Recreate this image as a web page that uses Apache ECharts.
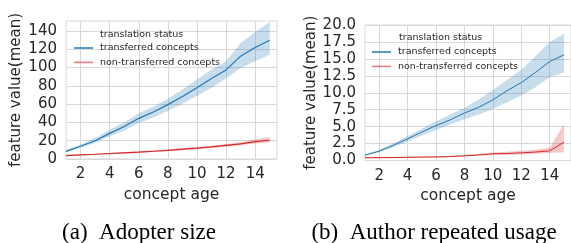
<!DOCTYPE html>
<html>
<head>
<meta charset="utf-8">
<script src="https://cdn.jsdelivr.net/npm/echarts@6/dist/echarts.min.js"></script>
<style>
  html, body { margin: 0; padding: 0; background: #fff; }
  #main { width: 571px; height: 243px; }
</style>
</head>
<body>
<div id="main"></div>
<script>
// concept age
var ages = [1, 2, 3, 4, 5, 6, 7, 8, 9, 10, 11, 12, 13, 14, 15]
var xTicks = [2, 4, 6, 8, 10, 12, 14]

// (a) Adopter size
var sizeTicks = [0, 20, 40, 60, 80, 100, 120, 140]
var sizeTrans = [8.3, 14, 20, 28, 35.5, 44.5, 51.5, 59.5, 68.5, 78, 88, 97.5, 112.5, 122, 130]
var sizeTransLow = [7, 12.5, 17.5, 25, 31, 39, 45.5, 52.5, 60.5, 69, 78, 88, 99.5, 107, 114]
var sizeTransHigh = [9.5, 16, 23, 32, 40, 50, 57.5, 66, 76, 87, 98, 107, 127, 139, 150]
var sizeNon = [3.8, 4.5, 5.2, 6, 6.8, 7.5, 8.5, 9.5, 10.7, 11.8, 13.3, 15, 16.5, 19, 20.5]
var sizeNonLow = [3.3, 4, 4.6, 5.3, 6, 6.7, 7.6, 8.5, 9.6, 10.6, 12, 13.5, 15, 17, 18]
var sizeNonHigh = [4.3, 5, 5.8, 6.7, 7.6, 8.4, 9.4, 10.5, 11.8, 13, 14.6, 16.5, 18.5, 21.5, 24]

// (b) Author repeated usage
var repTrans = [0.8, 1.38, 2.25, 3.2, 4.2, 5.15, 6, 7, 7.85, 8.95, 10.3, 11.5, 13, 14.6, 15.6]
var repTransLow = [0.65, 1.2, 1.95, 2.8, 3.7, 4.5, 5.3, 6.1, 6.8, 7.6, 8.6, 9.6, 10.8, 12.3, 13]
var repTransHigh = [0.9, 1.55, 2.55, 3.6, 4.7, 5.8, 6.8, 7.8, 9, 10.4, 11.9, 13.4, 15.4, 17.5, 18.7]
var repNon = [0.4, 0.42, 0.44, 0.47, 0.5, 0.53, 0.58, 0.68, 0.82, 0.98, 1.03, 1.13, 1.25, 1.42, 2.7]
var repNonLow = [0.32, 0.34, 0.36, 0.39, 0.42, 0.45, 0.5, 0.58, 0.7, 0.8, 0.85, 0.9, 1, 1.1, 1.2]
var repNonHigh = [0.48, 0.5, 0.52, 0.56, 0.59, 0.62, 0.67, 0.8, 0.95, 1.2, 1.3, 1.45, 1.6, 1.9, 5.4]

var BLUE = '#1f77b4'
var RED = '#d62728'
var TXT = '#262626'
var GRIDC = '#d8d8d8'
var FONT = 'DejaVu Sans'

function pairs (ys) {
  return ages.map(function (a, i) { return [a, ys[i]] })
}

// confidence band drawn as one polygon (low edge forward, high edge back)
function band (idx, lo, hi, color) {
  return {
    type: 'custom', xAxisIndex: idx, yAxisIndex: idx, silent: true, z: 2,
    data: ages.map(function (a, i) { return [a, lo[i], hi[i]] }),
    renderItem: function (params, api) {
      if (params.dataIndex !== 0) return null
      var pts = []
      for (var i = 0; i < ages.length; i++) pts.push(api.coord([ages[i], lo[i]]))
      for (var j = ages.length - 1; j >= 0; j--) pts.push(api.coord([ages[j], hi[j]]))
      return {
        type: 'polygon',
        shape: { points: pts },
        style: { fill: color, opacity: 0.25 }
      }
    }
  }
}

function line (idx, name, ys, color, w) {
  return {
    type: 'line', name: name, xAxisIndex: idx, yAxisIndex: idx,
    data: pairs(ys), symbol: 'none', z: 5,
    lineStyle: { color: color, width: w },
    itemStyle: { color: color }
  }
}

function xAxisOf (idx) {
  return {
    type: 'value', gridIndex: idx, min: 1, max: 15.5,
    name: 'concept age', nameLocation: 'middle', nameGap: 25,
    nameTextStyle: { fontFamily: FONT, fontSize: 15.5, color: TXT },
    axisLine: { show: false },
    axisTick: { show: false, customValues: xTicks },
    axisLabel: { customValues: xTicks, margin: 8, fontFamily: FONT, fontSize: 15, color: TXT },
    splitLine: { show: true, lineStyle: { color: GRIDC, width: 1 } }
  }
}

var myChart = echarts.init(document.getElementById('main'), null, { renderer: 'canvas' })

var legendCommon = {
  orient: 'vertical', padding: 0, itemGap: 0.4, itemWidth: 19, itemHeight: 1.5,
  icon: 'rect', selectedMode: false,
  textStyle: { fontFamily: FONT, fontSize: 9.5, color: TXT, lineHeight: 14, padding: [0, 0, 0, 2] }
}

myChart.setOption({
  animation: false,
  backgroundColor: '#fff',
  title: [
    { text: 'translation status', left: 100, top: 29, padding: 0,
      textStyle: { fontFamily: FONT, fontSize: 9.5, fontWeight: 'normal', color: TXT, lineHeight: 12 } },
    { text: 'translation status', left: 399, top: 32, padding: 0,
      textStyle: { fontFamily: FONT, fontSize: 9.5, fontWeight: 'normal', color: TXT, lineHeight: 12 } },
    { text: '(a)  Adopter size', left: 139, textAlign: 'center', top: 220, padding: 0,
      textStyle: { fontFamily: 'Liberation Serif', fontSize: 23, fontWeight: 'normal', color: '#000', lineHeight: 26 } },
    { text: '(b)  Author repeated usage', left: 434, textAlign: 'center', top: 220, padding: 0,
      textStyle: { fontFamily: 'Liberation Serif', fontSize: 23, fontWeight: 'normal', color: '#000', lineHeight: 26 } }
  ],
  legend: [
    Object.assign({}, legendCommon, {
      left: 74, top: 41,
      data: [{ name: 'transferred concepts', itemStyle: { color: BLUE } },
        { name: 'non-transferred concepts', itemStyle: { color: '#e8787a' } }]
    }),
    Object.assign({}, legendCommon, {
      left: 372, top: 45,
      data: [{ name: 'transferred concepts', itemStyle: { color: BLUE } },
        { name: 'non-transferred concepts', itemStyle: { color: '#e8787a' } }]
    })
  ],
  grid: [
    { left: 66, top: 21, width: 211, height: 138, show: true, borderColor: GRIDC, borderWidth: 1 },
    { left: 365, top: 25, width: 207, height: 135.5, show: true, borderColor: GRIDC, borderWidth: 1 }
  ],
  xAxis: [xAxisOf(0), xAxisOf(1)],
  yAxis: [{
    type: 'value', gridIndex: 0, min: 0, max: 151,
    name: 'feature value(mean)', nameLocation: 'middle', nameGap: 42,
    nameTextStyle: { fontFamily: FONT, fontSize: 15, color: TXT },
    axisLine: { show: false },
    axisTick: { show: false, customValues: sizeTicks },
    axisLabel: { customValues: sizeTicks, margin: 9, fontFamily: FONT, fontSize: 15, color: TXT },
    splitLine: { show: true, lineStyle: { color: GRIDC, width: 1 } }
  }, {
    type: 'value', gridIndex: 1, min: 0, max: 20, interval: 2.5,
    name: 'feature value(mean)', nameLocation: 'middle', nameGap: 45,
    nameTextStyle: { fontFamily: FONT, fontSize: 15, color: TXT },
    axisLine: { show: false },
    axisTick: { show: false },
    axisLabel: { margin: 9, fontFamily: FONT, fontSize: 15, color: TXT,
      formatter: function (v) { return v.toFixed(1) } },
    splitLine: { show: true, lineStyle: { color: GRIDC, width: 1 } }
  }],
  series: [
    band(0, sizeTransLow, sizeTransHigh, BLUE),
    band(0, sizeNonLow, sizeNonHigh, RED),
    band(1, repTransLow, repTransHigh, BLUE),
    band(1, repNonLow, repNonHigh, RED),
    line(0, 'transferred concepts', sizeTrans, BLUE, 1.2),
    line(0, 'non-transferred concepts', sizeNon, RED, 1.2),
    line(1, 'transferred concepts', repTrans, BLUE, 1),
    line(1, 'non-transferred concepts', repNon, RED, 1)
  ]
})

window.addEventListener('resize', function () {
  myChart.resize()
})
</script>
</body>
</html>
